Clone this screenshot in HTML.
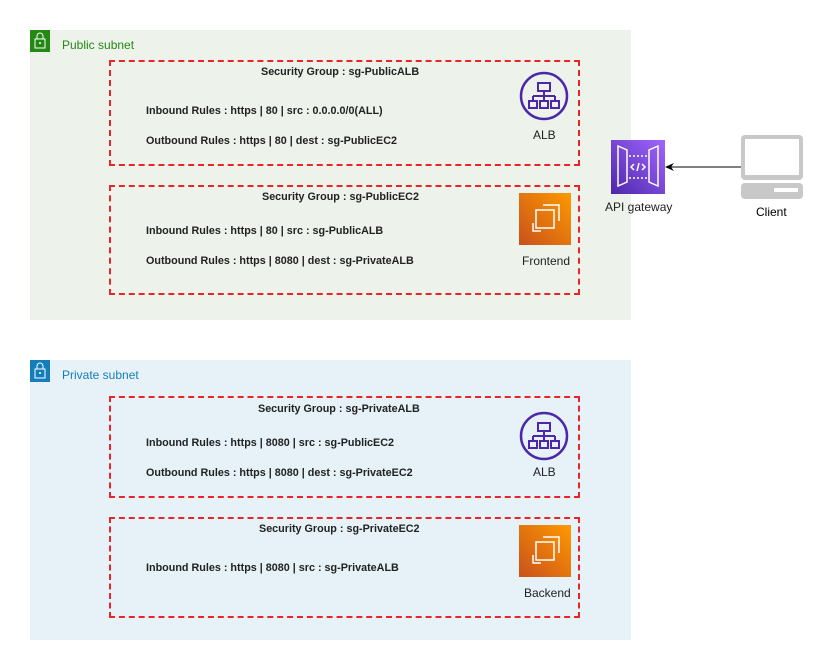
<!DOCTYPE html>
<html><head><style>
body{margin:0;width:834px;height:671px;background:#fff;position:relative;font-family:"Liberation Sans",sans-serif;overflow:hidden}
.abs{position:absolute}
.sub{position:absolute;left:30px;width:601px}
.sg{position:absolute;left:109px;width:471px;border:2px dashed #e8262a;box-sizing:border-box}
.t{position:absolute;font-size:11px;font-weight:bold;color:#222;white-space:nowrap;transform-origin:left center;transform:scaleX(0.98)}
.lbl{position:absolute;font-size:11px;color:#222;white-space:nowrap}
</style></head><body>
<div class="sub" style="top:30px;height:290px;background:#edf3ea"></div>
<div class="sub" style="top:360px;height:280px;background:#e6f2f8"></div>
<svg class="abs" style="left:30px;top:30px" width="20" height="22"><rect width="20" height="22" fill="#248814"/><rect x="5" y="9" width="10" height="9" fill="none" stroke="#fff"/><path d="M7 9V6a3 3 0 0 1 6 0v3" fill="none" stroke="#fff"/><circle cx="10" cy="13" r="1" fill="#fff"/></svg>
<div class="lbl" style="left:62px;top:38px;color:#248814;font-size:12px">Public subnet</div>
<svg class="abs" style="left:30px;top:360px" width="20" height="22"><rect width="20" height="22" fill="#147eba"/><rect x="5" y="9" width="10" height="9" fill="none" stroke="#fff"/><path d="M7 9V6a3 3 0 0 1 6 0v3" fill="none" stroke="#fff"/><circle cx="10" cy="13" r="1" fill="#fff"/></svg>
<div class="lbl" style="left:62px;top:368px;color:#147eba;font-size:12px">Private subnet</div>

<div class="sg" style="top:60px;height:106px"></div>
<div class="t" style="left:261px;top:66px">Security Group : sg-PublicALB</div>
<div class="t" style="left:146px;top:105px">Inbound Rules : https | 80 | src : 0.0.0.0/0(ALL)</div>
<div class="t" style="left:146px;top:135px">Outbound Rules : https | 80 | dest : sg-PublicEC2</div>

<div class="sg" style="top:185px;height:110px"></div>
<div class="t" style="left:262px;top:191px">Security Group : sg-PublicEC2</div>
<div class="t" style="left:146px;top:225px">Inbound Rules : https | 80 | src : sg-PublicALB</div>
<div class="t" style="left:146px;top:255px">Outbound Rules : https | 8080 | dest : sg-PrivateALB</div>

<div class="sg" style="top:396px;height:102px"></div>
<div class="t" style="left:258px;top:403px">Security Group : sg-PrivateALB</div>
<div class="t" style="left:146px;top:437px">Inbound Rules : https | 8080 | src : sg-PublicEC2</div>
<div class="t" style="left:146px;top:467px">Outbound Rules : https | 8080 | dest : sg-PrivateEC2</div>

<div class="sg" style="top:517px;height:101px"></div>
<div class="t" style="left:259px;top:523px">Security Group : sg-PrivateEC2</div>
<div class="t" style="left:146px;top:562px">Inbound Rules : https | 8080 | src : sg-PrivateALB</div>

<svg class="abs" style="left:519px;top:71px" width="50" height="50"><circle cx="25" cy="25" r="23" fill="none" stroke="#4d27aa" stroke-width="2.5"/><g fill="none" stroke="#4d27aa" stroke-width="2"><rect x="19" y="12" width="12" height="8"/><path d="M25 20v5M14 25h22M14 25v5M25 25v5M36 25v5"/><rect x="10" y="30" width="8" height="7"/><rect x="21" y="30" width="8" height="7"/><rect x="32" y="30" width="8" height="7"/></g></svg>
<div class="lbl" style="left:533px;top:128px;font-size:12px">ALB</div>
<svg class="abs" style="left:519px;top:411px" width="50" height="50"><circle cx="25" cy="25" r="23" fill="none" stroke="#4d27aa" stroke-width="2.5"/><g fill="none" stroke="#4d27aa" stroke-width="2"><rect x="19" y="12" width="12" height="8"/><path d="M25 20v5M14 25h22M14 25v5M25 25v5M36 25v5"/><rect x="10" y="30" width="8" height="7"/><rect x="21" y="30" width="8" height="7"/><rect x="32" y="30" width="8" height="7"/></g></svg>
<div class="lbl" style="left:533px;top:465px;font-size:12px">ALB</div>

<svg class="abs" style="left:519px;top:193px" width="52" height="52"><defs><linearGradient id="g" x1="0" y1="1" x2="1" y2="0"><stop offset="0" stop-color="#c8511b"/><stop offset="1" stop-color="#f90"/></linearGradient></defs><rect width="52" height="52" fill="url(#g)"/><g fill="none" stroke="#fff" stroke-width="1.5"><rect x="17" y="17" width="18" height="18"/><path d="M14 30v8h8M24 12h16v16"/></g></svg>
<div class="lbl" style="left:522px;top:254px;font-size:12px">Frontend</div>
<svg class="abs" style="left:519px;top:525px" width="52" height="52"><rect width="52" height="52" fill="url(#g)"/><g fill="none" stroke="#fff" stroke-width="1.5"><rect x="17" y="17" width="18" height="18"/><path d="M14 30v8h8M24 12h16v16"/></g></svg>
<div class="lbl" style="left:524px;top:586px;font-size:12px">Backend</div>

<svg class="abs" style="left:611px;top:140px" width="54" height="54"><defs><linearGradient id="p" x1="0" y1="1" x2="1" y2="0"><stop offset="0" stop-color="#4d27aa"/><stop offset="1" stop-color="#a166ff"/></linearGradient></defs><rect width="54" height="54" fill="url(#p)"/><g fill="none" stroke="#fff" stroke-width="1.5"><path d="M7 6l9 4v32l-9 4zM47 6l-9 4v32l9 4z"/><path d="M18 16h18M18 38h18" stroke-dasharray="2 2"/><path d="M23 24l-3 3 3 3M31 24l3 3-3 3M28 23l-2 8"/></g></svg>
<div class="lbl" style="left:605px;top:200px;font-size:12px">API gateway</div>

<svg class="abs" style="left:660px;top:160px" width="82" height="14"><line x1="10" y1="7" x2="82" y2="7" stroke="#000"/><path d="M5 7l9-4-3 4 3 4z" fill="#000"/></svg>

<svg class="abs" style="left:740px;top:134px" width="64" height="66"><rect x="1" y="1" width="62" height="45" rx="4" fill="#c8c8c8"/><rect x="5" y="5" width="54" height="36" fill="#fff"/><rect x="1" y="49" width="62" height="16" rx="4" fill="#c8c8c8"/><rect x="34" y="54" width="24" height="4" fill="#fff"/></svg>
<div class="lbl" style="left:756px;top:205px;color:#000;font-size:12px">Client</div>
</body></html>
